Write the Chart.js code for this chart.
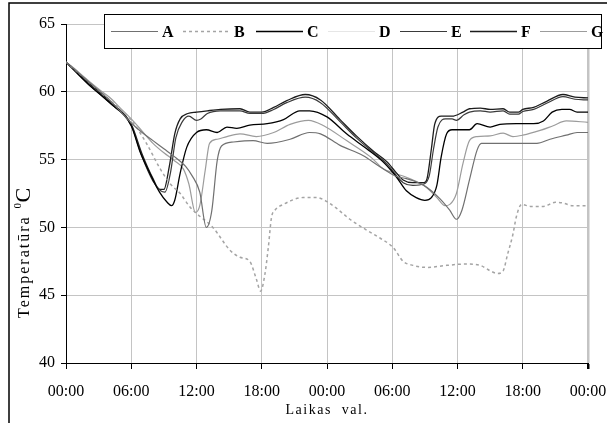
<!DOCTYPE html>
<html>
<head>
<meta charset="utf-8">
<script src="https://cdn.jsdelivr.net/npm/chart.js@4/dist/chart.umd.min.js"></script>
<style>
  html, body { margin: 0; padding: 0; background: #fff; }
</style>
</head>
<body>
<canvas id="chart" width="607" height="423"></canvas>
<script>
// ---------------------------------
// Dati (stundas no sākuma, °C)
// ---------------------------------
const xTickHours = [0, 6, 12, 18, 24, 30, 36, 42, 48];
const xTickLabels = ["00:00", "06:00", "12:00", "18:00", "00:00", "06:00", "12:00", "18:00", "00:00"];
const yTicks = [40, 45, 50, 55, 60, 65];

const seriesNames = ["A", "B", "C", "D", "E", "F", "G"];

const hoursA = [0, 2, 4, 6, 7, 8, 9, 10, 11, 11.6, 12.3, 12.9, 13.4, 13.9, 14.3, 15.4, 17.2, 18.5, 20.6, 22.4, 23.4, 25.2, 27.3, 28.9, 30.4, 31.3, 32.9, 34.4, 35.3, 35.9, 36.4, 37.1, 37.8, 38.2, 39.9, 41.7, 43.3, 44.5, 46, 47, 48];
const tempsA = [62.2, 60.8, 59.4, 57.7, 57.0, 56.4, 55.8, 55.2, 54.5, 53.8, 52.6, 50.0, 51.2, 54.9, 56.0, 56.3, 56.4, 56.2, 56.5, 57.0, 56.9, 56.05, 55.3, 54.45, 53.75, 53.6, 53.1, 52.1, 51.25, 50.6, 51.25, 53.5, 55.7, 56.2, 56.2, 56.2, 56.2, 56.5, 56.8, 57.0, 57.0];

const hoursB = [0, 2, 4, 6, 7.4, 8.6, 9.6, 10.5, 11.4, 11.9, 13.5, 15.1, 16, 16.9, 17.5, 17.9, 18.3, 18.6, 18.9, 19.2, 20, 21.8, 23.05, 24, 25.5, 26.1, 27.65, 28.9, 30.1, 31, 31.9, 33.2, 35, 36.8, 38.1, 39, 39.7, 40.2, 40.6, 41.1, 41.4, 41.9, 42.7, 43.9, 45, 45.7, 46.6, 48];
const tempsB = [62.2, 60.8, 59.4, 57.9, 56.2, 54.4, 53.2, 52.5, 51.5, 51.1, 50.0, 48.3, 47.8, 47.5, 46.2, 45.3, 46.6, 48.5, 50.75, 51.25, 51.7, 52.2, 52.2, 51.9, 51.0, 50.6, 49.8, 49.2, 48.5, 47.5, 47.2, 47.05, 47.2, 47.3, 47.2, 46.8, 46.6, 46.8, 48.0, 49.5, 50.75, 51.7, 51.55, 51.55, 51.85, 51.8, 51.6, 51.6];

const hoursC = [0, 2, 4, 6, 6.8, 7.7, 8.6, 9.3, 9.7, 10, 10.5, 11.1, 12, 12.9, 13.9, 14.8, 15.7, 16.9, 18.5, 20, 21.5, 22.4, 24, 25.8, 27.65, 29.2, 30.4, 31.3, 32.2, 33, 33.6, 34.1, 34.5, 35, 35.5, 37.1, 37.8, 39, 39.9, 41.4, 43, 43.9, 44.7, 45.6, 46.3, 47, 48];
const tempsC = [62.2, 60.6, 59.2, 57.5, 55.6, 54.0, 52.6, 51.85, 51.6, 52.0, 54.0, 55.9, 57.0, 57.2, 57.0, 57.4, 57.3, 57.55, 57.65, 57.95, 58.6, 58.6, 58.15, 56.9, 55.8, 54.8, 53.7, 52.7, 52.2, 52.0, 52.2, 53.1, 55.2, 56.9, 57.2, 57.2, 57.65, 57.4, 57.6, 57.65, 57.65, 57.85, 58.5, 58.7, 58.7, 58.5, 58.5];

// D līnija attēlā gandrīz balta, vērtības nav nolasāmas
const hoursD = [];
const tempsD = [];

const hoursE = [0, 2, 4, 6, 7, 8, 8.7, 9.1, 9.6, 10.1, 10.7, 11.3, 12, 12.4, 13, 14.2, 16, 16.9, 18, 19.1, 20.3, 22, 23.4, 25.2, 26.7, 28.3, 29.5, 30.4, 31, 31.9, 32.9, 33.4, 33.8, 34.2, 34.9, 35.5, 35.9, 36.6, 37.1, 38.1, 39, 40.2, 40.8, 41.6, 42, 43, 44.2, 45.7, 46.8, 48];
const tempsE = [62.2, 60.6, 59.2, 57.5, 55.2, 53.4, 52.7, 52.6, 54.0, 56.6, 57.8, 58.2, 57.9, 58.0, 58.4, 58.6, 58.6, 58.4, 58.4, 58.7, 59.2, 59.6, 59.2, 57.8, 56.6, 55.5, 54.7, 53.8, 53.3, 53.1, 53.2, 53.8, 55.8, 57.4, 58.0, 58.0, 57.9, 58.3, 58.5, 58.6, 58.5, 58.6, 58.35, 58.35, 58.55, 58.7, 59.15, 59.65, 59.45, 59.4];

const hoursF = [0, 2, 4, 6, 7, 8, 8.6, 9, 9.5, 10, 10.5, 11.2, 12, 13, 14.2, 16, 16.9, 18, 19.1, 20.3, 22, 23.4, 25.2, 26.7, 28.3, 29.5, 30.4, 31, 31.9, 32.9, 33.2, 33.6, 33.9, 34.5, 35.5, 36.5, 37.1, 38.1, 39, 40.2, 40.8, 41.6, 42, 43, 44.2, 45.7, 46.8, 48];
const tempsF = [62.2, 60.7, 59.3, 57.6, 55.4, 53.6, 52.8, 52.8, 54.5, 56.9, 58.0, 58.4, 58.5, 58.6, 58.7, 58.75, 58.5, 58.5, 58.85, 59.35, 59.8, 59.4, 57.95, 56.75, 55.6, 54.85, 54.0, 53.5, 53.3, 53.3, 53.6, 55.8, 57.6, 58.2, 58.2, 58.5, 58.75, 58.8, 58.7, 58.75, 58.5, 58.5, 58.7, 58.85, 59.3, 59.8, 59.6, 59.55];

const hoursG = [0, 0.8, 1.5, 3, 4, 5, 6, 7, 8, 9, 10, 10.8, 11.3, 11.9, 12.3, 12.8, 13.2, 13.9, 14.8, 16, 17.5, 19.1, 20.6, 22.3, 23.7, 25.8, 28, 29.2, 29.8, 31.6, 32.9, 34.1, 34.85, 35.3, 35.9, 36.5, 37.1, 37.8, 39, 40.2, 41.1, 42, 43.6, 44.8, 46, 48];
const tempsG = [62.2, 61.7, 61.2, 60.2, 59.6, 58.8, 58.0, 57.1, 56.2, 55.5, 54.9, 54.3, 53.2, 51.1, 51.6, 54.2, 56.2, 56.5, 56.7, 56.9, 56.7, 57.0, 57.6, 57.9, 57.5, 56.4, 55.2, 54.3, 54.1, 53.6, 53.1, 52.2, 51.6, 51.7, 52.5, 54.7, 56.4, 56.7, 56.75, 56.95, 56.7, 56.8, 57.15, 57.5, 57.85, 57.75];

const allHours = [hoursA, hoursB, hoursC, hoursD, hoursE, hoursF, hoursG];
const allTemps = [tempsA, tempsB, tempsC, tempsD, tempsE, tempsF, tempsG];

const colors = ["#707070", "#a4a4a4", "#000000", "#e6e6e6", "#3a3a3a", "#1c1c1c", "#9c9c9c"];
const dashes = [[], [3, 3], [], [], [], [], []];
const widths = [1.2, 1.5, 1.3, 1.2, 1.2, 1.3, 1.2];

const serif = "\"Liberation Serif\", \"Times New Roman\", Times, serif";

// leģendas līniju sākumi (px)
const legendX = [111, 183, 256, 328, 400, 470, 540];

// ---------------------------------
// Leģenda, virsraksti, rāmis
// ---------------------------------
const decor = {
  id: "decor",
  afterDraw(chart) {
    const ctx = chart.ctx;
    const area = chart.chartArea;
    ctx.save();

    // ārējais rāmis (redzama tikai augša un kreisā puse)
    ctx.strokeStyle = "#000";
    ctx.lineWidth = 1.5;
    ctx.beginPath();
    ctx.moveTo(9, 423);
    ctx.lineTo(9, 3);
    ctx.lineTo(607, 3);
    ctx.stroke();

    // leģendas rāmis
    ctx.fillStyle = "#fff";
    ctx.fillRect(104, 14, 498, 34);
    ctx.strokeStyle = "#000";
    ctx.lineWidth = 1;
    ctx.strokeRect(104.5, 14.5, 497, 34);

    chart.data.datasets.forEach((ds, i) => {
      const x0 = legendX[i];
      const y = 31.5;
      ctx.strokeStyle = ds.borderColor;
      ctx.lineWidth = ds.borderWidth;
      ctx.setLineDash(ds.borderDash || []);
      ctx.beginPath();
      ctx.moveTo(x0, y);
      ctx.lineTo(x0 + 47, y);
      ctx.stroke();
      ctx.setLineDash([]);
      ctx.fillStyle = "#000";
      ctx.font = "bold 16px " + serif;
      ctx.textAlign = "left";
      ctx.textBaseline = "middle";
      ctx.fillText(ds.label, x0 + 51, y + 1);
    });

    // x ass nosaukums
    ctx.fillStyle = "#000";
    ctx.font = "14px " + serif;
    ctx.letterSpacing = "1.5px";
    ctx.textAlign = "center";
    ctx.textBaseline = "middle";
    ctx.fillText("Laikas  val.", (area.left + area.right) / 2, 410);

    // y ass nosaukums
    ctx.translate(24, 318);
    ctx.rotate(-Math.PI / 2);
    ctx.textAlign = "left";
    ctx.textBaseline = "alphabetic";
    ctx.font = "16px " + serif;
    ctx.letterSpacing = "2px";
    ctx.fillText("Temperatūra", 0, 5);
    const w = ctx.measureText("Temperatūra").width;
    ctx.letterSpacing = "0px";
    ctx.font = "11px " + serif;
    ctx.fillText("0", w + 7, -3);
    ctx.font = "22px " + serif;
    ctx.fillText("C", w + 13, 6);
    ctx.restore();
  }
};

new Chart(document.getElementById("chart"), {
  type: "line",
  data: {
    datasets: seriesNames.map((name, i) => ({
      label: name,
      data: allHours[i].map((h, j) => ({ x: h, y: allTemps[i][j] })),
      borderColor: colors[i],
      borderDash: dashes[i],
      borderWidth: widths[i],
      pointRadius: 0,
      fill: false,
      cubicInterpolationMode: "monotone"
    }))
  },
  options: {
    responsive: false,
    animation: false,
    layout: { padding: { left: 0, right: 19, top: 24, bottom: 0 } },
    plugins: {
      legend: { display: false },
      tooltip: { enabled: false }
    },
    scales: {
      x: {
        type: "linear",
        min: 0,
        max: 48,
        afterBuildTicks: (scale) => { scale.ticks = xTickHours.map(v => ({ value: v })); },
        afterFit: (scale) => {
          scale.height = 60;
          scale.paddingLeft = 0;
          scale.paddingRight = 0;
        },
        ticks: {
          autoSkip: false,
          maxRotation: 0,
          padding: 13,
          color: "#000",
          font: { family: serif, size: 16 },
          callback: (v, i) => xTickLabels[i]
        },
        grid: {
          color: "#c4c4c4",
          tickColor: "#000",
          tickLength: 6,
          lineWidth: (c) => (c.index === xTickHours.length - 1 ? 2.5 : 1)
        },
        border: { color: "#000", width: 1 }
      },
      y: {
        min: 40,
        max: 65,
        afterBuildTicks: (scale) => { scale.ticks = yTicks.map(v => ({ value: v })); },
        afterFit: (scale) => { scale.width = 66; },
        ticks: {
          padding: 6,
          color: "#000",
          font: { family: serif, size: 16 }
        },
        grid: {
          color: "#c4c4c4",
          tickColor: "#000",
          tickLength: 5
        },
        border: { color: "#000", width: 1 }
      }
    }
  },
  plugins: [decor]
});
</script>
</body>
</html>
